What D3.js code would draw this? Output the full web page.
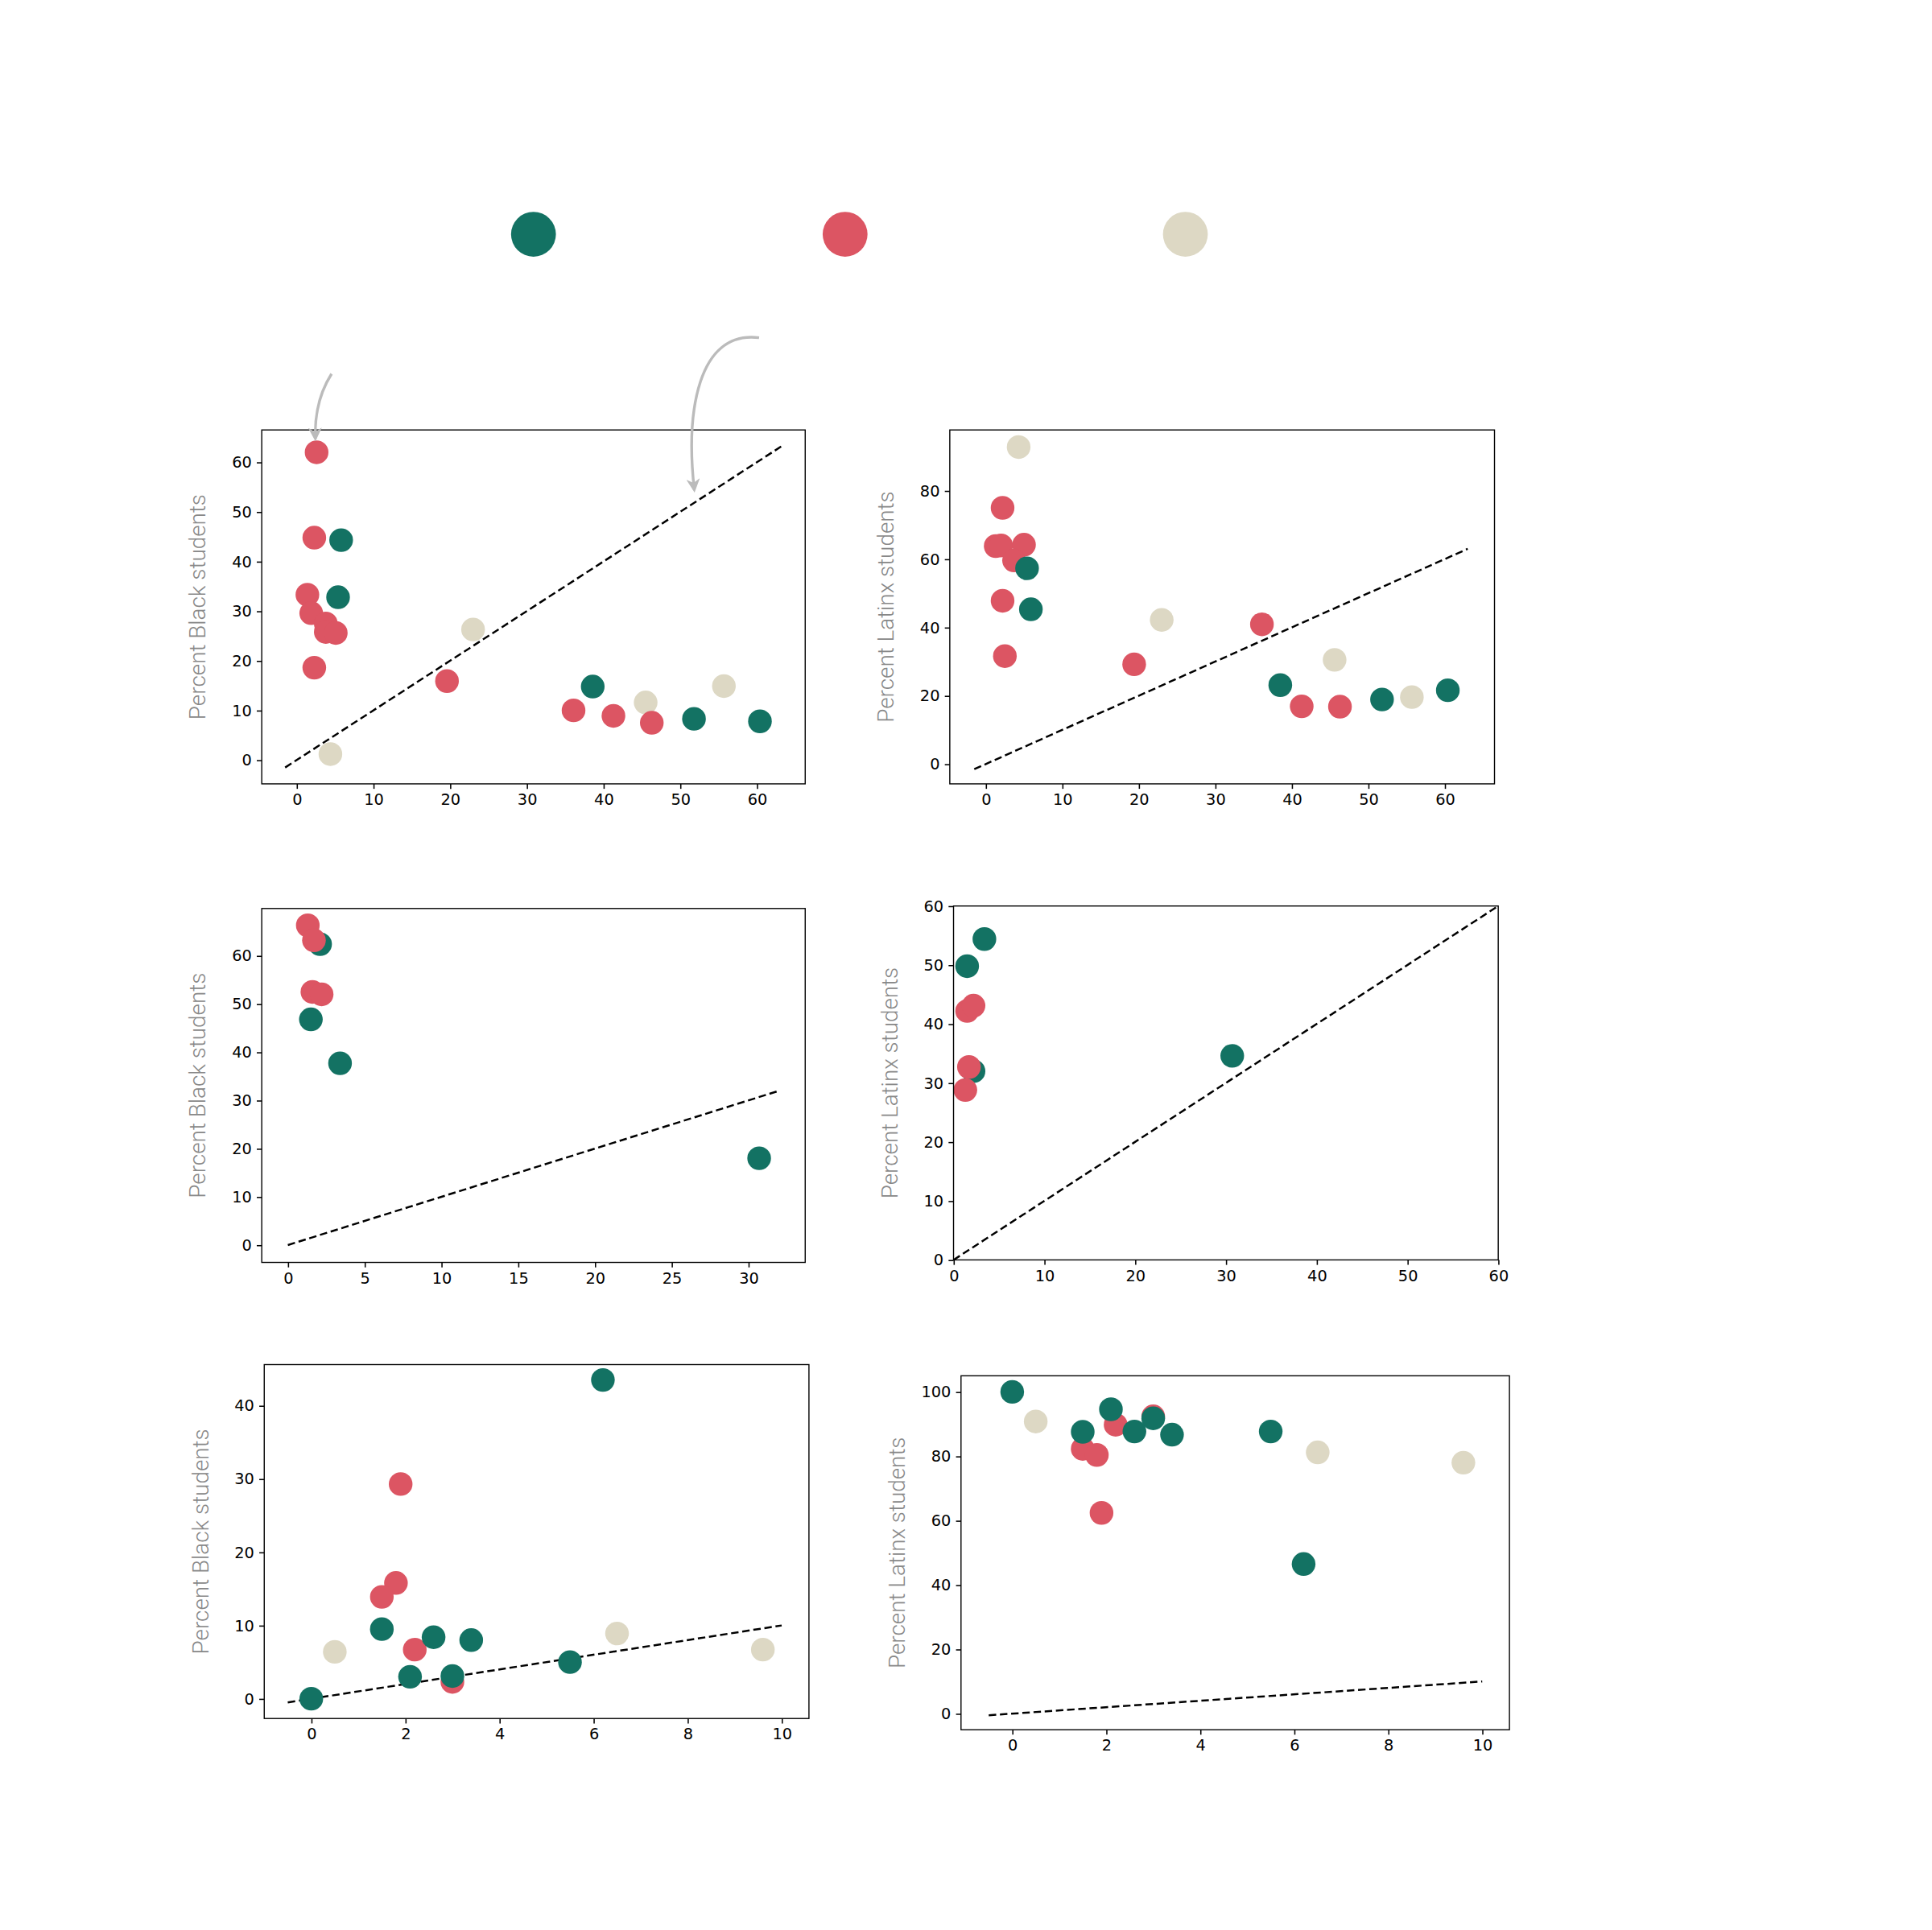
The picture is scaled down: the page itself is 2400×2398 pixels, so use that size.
<!DOCTYPE html>
<html><head><meta charset="utf-8">
<script src="https://cdn.jsdelivr.net/npm/d3@7"></script>
<style>body{margin:0;background:#fff}</style></head>
<body><svg id="c" width="2400" height="2398" viewBox="0 0 1550 1548.7"></svg>
<script>
const colors = {blue:"#137263", red:"#DC5563", beige:"#DDD8C4"};
// Each panel: series of [x,y] points
const p1Blue=[[5.8,44.3],[5.4,32.8],[38.6,14.8],[51.8,8.3],[60.4,7.8]];
const p1Red=[[2.6,62],[2.3,44.8],[1.4,33.3],[1.9,29.6],[3.8,27.5],[3.8,25.8],[5.1,25.6],[2.3,18.6],[19.6,15.9],[36.1,10.0],[41.3,8.9],[46.3,7.5]];
const p1Beige=[[4.4,1.2],[23,26.3],[45.5,11.6],[55.7,14.9]];
const p2Blue=[[5.4,57.3],[5.9,45.3],[38.5,23.1],[51.8,18.9],[60.4,21.6]];
const p2Red=[[2.2,75],[1.3,63.8],[2.0,64.0],[5.0,64.2],[3.7,59.6],[2.2,47.8],[2.5,31.6],[19.4,29.2],[36.1,40.9],[41.3,16.9],[46.3,16.8]];
const p2Beige=[[4.3,92.8],[23,42.2],[45.6,30.5],[55.7,19.6]];
const p3Blue=[[2.1,62.4],[1.5,46.8],[3.4,37.7],[30.7,18.0]];
const p3Red=[[1.3,66.3],[1.7,63.2],[1.6,52.5],[2.2,52.0]];
const p4Blue=[[1.5,49.8],[3.4,54.4],[2.2,32.0],[30.7,34.6]];
const p4Red=[[1.5,42.2],[2.2,43.1],[1.7,32.7],[1.3,28.8]];
const p5Blue=[[0,0],[6.2,43.5],[1.5,9.5],[2.6,8.4],[3.4,8.0],[2.1,3.0],[3.0,3.1],[5.5,5.0]];
const p5Red=[[1.9,29.3],[1.8,15.8],[1.5,13.9],[2.2,6.7],[3.0,2.3]];
const p5Beige=[[0.5,6.4],[6.5,8.9],[9.6,6.7]];
const p6Blue=[[0,100],[1.5,87.6],[2.1,94.6],[2.6,87.7],[3.0,91.8],[3.4,86.7],[5.5,87.7],[6.2,46.5]];
const p6Red=[[1.5,82.3],[1.8,80.4],[2.2,89.8],[3.0,92.4],[1.9,62.4]];
const p6Beige=[[0.5,90.8],[6.5,81.2],[9.6,78.0]];
const ticks1x=[0,10,20,30,40,50,60], ticks1y=[0,10,20,30,40,50,60];
const ticks2y=[0,20,40,60,80];
const ticks3x=[0,5,10,15,20,25,30], ticks3y=[0,10,20,30,40,50,60];
const ticks4=[0,10,20,30,40,50,60];
const ticks5x=[0,2,4,6,8,10], ticks5y=[0,10,20,30,40];
const ticks6y=[0,20,40,60,80,100];

const panels=[
 {box:[210,345,646,629],xd:[-4.55,66.3],yd:[-4.8,66.5],xt:ticks1x,yt:ticks1y,line:[-1.5,63.5],label:"Percent Black students",s:[[p1Beige,"beige"],[p1Red,"red"],[p1Blue,"blue"]]},
 {box:[762,345,1199,629],xd:[-4.7,66.5],yd:[-5.8,97.8],xt:ticks1x,yt:ticks2y,line:[-1.5,63],label:"Percent Latinx students",s:[[p2Beige,"beige"],[p2Red,"red"],[p2Blue,"blue"]]},
 {box:[210,729,646,1013],xd:[-1.7,33.7],yd:[-3.6,69.8],xt:ticks3x,yt:ticks3y,line:[0,32],label:"Percent Black students",s:[[p3Blue,"blue"],[p3Red,"red"]]},
 {box:[765,727,1202,1011],xd:[0,60],yd:[0,60],xt:ticks4,yt:ticks4,line:[0,60],label:"Percent Latinx students",s:[[p4Blue,"blue"],[p4Red,"red"]]},
 {box:[212,1095,649,1379],xd:[-1.0,10.58],yd:[-2.7,45.6],xt:ticks5x,yt:ticks5y,line:[-0.5,10],label:"Percent Black students",s:[[p5Beige,"beige"],[p5Red,"red"],[p5Blue,"blue"]]},
 {box:[771,1104,1211,1388],xd:[-1.09,10.58],yd:[-5,105],xt:ticks5x,yt:ticks6y,line:[-0.5,10],label:"Percent Latinx students",s:[[p6Beige,"beige"],[p6Red,"red"],[p6Blue,"blue"]]}
];
const svg=d3.select("#c");
panels.forEach(p=>{
  const [x0,y0,x1,y1]=p.box;
  const x=d3.scaleLinear().domain(p.xd).range([x0,x1]);
  const y=d3.scaleLinear().domain(p.yd).range([y1,y0]);
  const g=svg.append("g");
  g.append("line").attr("x1",x(p.line[0])).attr("y1",y(p.line[0])).attr("x2",x(p.line[1])).attr("y2",y(p.line[1]))
   .attr("stroke","#000").attr("stroke-width",1.6).attr("stroke-dasharray","6,3");
  p.s.forEach(([d,c])=>{
    g.selectAll(null).data(d).enter().append("circle").attr("cx",v=>x(v[0])).attr("cy",v=>y(v[1])).attr("r",9.5).attr("fill",colors[c]);
  });
  g.append("rect").attr("x",x0).attr("y",y0).attr("width",x1-x0).attr("height",y1-y0).attr("fill","none").attr("stroke","#000").attr("stroke-width",0.9);
  const ax=g.append("g").attr("transform",`translate(0,${y1})`).call(d3.axisBottom(x).tickValues(p.xt).tickSize(4).tickPadding(4));
  const ay=g.append("g").attr("transform",`translate(${x0},0)`).call(d3.axisLeft(y).tickValues(p.yt).tickSize(4).tickPadding(4));
  [ax,ay].forEach(a=>{a.select(".domain").remove();a.selectAll("text").attr("font-family","DejaVu Sans").attr("font-size",12.5).attr("fill","#000");a.selectAll("line").attr("stroke","#000");});
  g.append("text").attr("transform",`translate(${x0-45},${(y0+y1)/2}) rotate(-90)`).attr("text-anchor","middle")
   .attr("font-family","Roboto").attr("font-weight",300).attr("font-size",18).attr("fill","#888").text(p.label);
});
// legend dots
const legend=[["blue",428],["red",678],["beige",951]];
svg.selectAll(null).data(legend).enter().append("circle").attr("cx",d=>d[1]).attr("cy",188).attr("r",18).attr("fill",d=>colors[d[0]]);
// arrows
svg.append("defs").append("marker").attr("id","ah").attr("viewBox","0 0 10 10").attr("refX",8).attr("refY",5)
 .attr("markerWidth",5).attr("markerHeight",5).attr("orient","auto").append("path").attr("d","M0,0 L10,5 L0,10 L3,5 Z").attr("fill","#bbb");
svg.append("path").attr("d","M266,300 Q252,322 253,352").attr("fill","none").attr("stroke","#bbb").attr("stroke-width",2.2).attr("marker-end","url(#ah)");
svg.append("path").attr("d","M609,271 C560,265 550,330 557,393").attr("fill","none").attr("stroke","#bbb").attr("stroke-width",2.2).attr("marker-end","url(#ah)");
</script></body></html>
